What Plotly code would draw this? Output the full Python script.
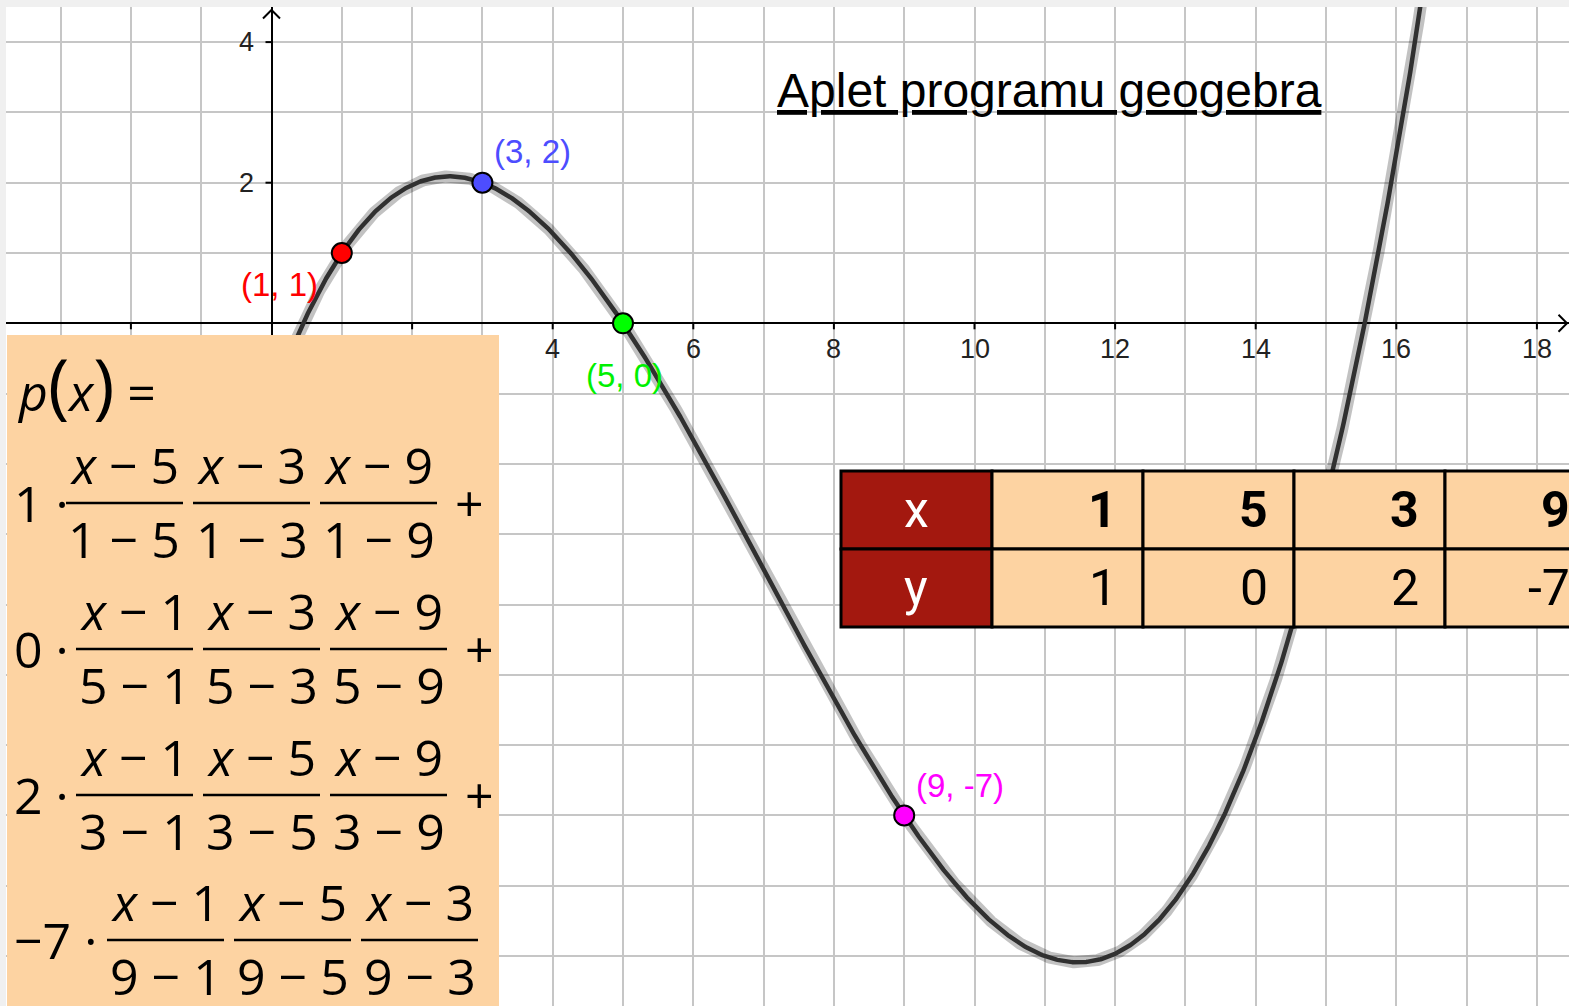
import numpy as np
import plotly.graph_objects as go

# interpolation nodes, in the order of the applet's table
xs = [1, 5, 3, 9]
ys = [1, 0, 2, -7]
point_colors = ["#ff0000", "#00ff00", "#4d4dff", "#ff00ff"]
label_colors = ["#ff0000", "#00f000", "#4d4dff", "#ff00ff"]
label_shift = [(-62, -31), (1, -52), (50, 31), (56, 30)]

x_tick_marks = [-2, 2, 4, 6, 8, 10, 12, 14, 16, 18]
x_tick_labels = [4, 6, 8, 10, 12, 14, 16, 18]
y_tick_marks = [-8, -6, -4, -2, 2, 4]
y_tick_labels = [2, 4]

title = "Aplet programu geogebra"
table_head = ["x", "y"]

# page geometry: GeoGebra view, 70.3 px per unit, origin at (271.5, 323.3)
W, H = 1569, 1006
ML, MT = 6, 7
UNIT = 70.3
OX, OY = 271.5, 323.3


def px_x(p):
    return (p - OX) / UNIT


def px_y(p):
    return (OY - p) / UNIT


def pap_x(p):
    return (p - ML) / (W - ML)


def pap_y(p):
    return 1 - (p - MT) / (H - MT)


def fmt(v):
    return str(v).replace("-", "\u2212")


def note(px, py, text, font, xanchor="center"):
    # text placed in page pixels (paper coordinates)
    return dict(xref="paper", yref="paper", x=pap_x(px), y=pap_y(py), text=text,
                showarrow=False, xanchor=xanchor, yanchor="middle", font=font)


# Lagrange polynomial through the nodes (the function shown in the applet)
def poly(x):
    total = np.zeros_like(x)
    for i in range(len(xs)):
        term = np.full_like(x, float(ys[i]))
        for j in range(len(xs)):
            if j != i:
                term = term * (x - xs[j]) / (xs[i] - xs[j])
        total = total + term
    return total


xc = np.linspace(-1.2, 16.8, 1500)
yc = poly(xc)

fig = go.Figure()
fig.add_trace(go.Scatter(x=xc, y=yc, mode="lines",
                         line=dict(color="rgba(0,0,0,0.24)", width=12), hoverinfo="skip"))
fig.add_trace(go.Scatter(x=xc, y=yc, mode="lines",
                         line=dict(color="#303030", width=4.5), hoverinfo="skip"))
fig.add_trace(go.Scatter(x=xs, y=ys, mode="markers", hoverinfo="skip",
                         marker=dict(size=20, color=point_colors,
                                     line=dict(color="black", width=2))))

shapes = []
annotations = []

# axis ticks and arrow heads
tl = 6 / UNIT
for v in x_tick_marks:
    shapes.append(dict(type="line", x0=v, x1=v, y0=0, y1=-tl,
                       line=dict(color="black", width=2)))
for v in y_tick_marks:
    shapes.append(dict(type="line", x0=0, x1=-tl, y0=v, y1=v,
                       line=dict(color="black", width=2)))
a = 8.5 / UNIT
ytip = px_y(10)
xtip = px_x(1567)
shapes.append(dict(type="path", path=f"M {-a},{ytip - a} L 0,{ytip} L {a},{ytip - a}",
                   line=dict(color="black", width=2)))
shapes.append(dict(type="path", path=f"M {xtip - a},{a} L {xtip},0 L {xtip - a},{-a}",
                   line=dict(color="black", width=2)))

tick_font = dict(family="Liberation Sans, Arial, sans-serif", size=27, color="#222222")
for v in x_tick_labels:
    annotations.append(dict(x=v, y=0, text=str(v), showarrow=False, yshift=-26,
                            xanchor="center", yanchor="middle", font=tick_font))
for v in y_tick_labels:
    annotations.append(dict(x=0, y=v, text=str(v), showarrow=False, xshift=-25,
                            xanchor="center", yanchor="middle", font=tick_font))

# point labels
for i in range(len(xs)):
    annotations.append(dict(x=xs[i], y=ys[i], text=f"({xs[i]}, {ys[i]})", showarrow=False,
                            xshift=label_shift[i][0], yshift=label_shift[i][1],
                            xanchor="center", yanchor="middle",
                            font=dict(family="Liberation Sans, Arial, sans-serif", size=33,
                                      color=label_colors[i])))

# title
annotations.append(note(1049, 90, title,
                        dict(family="Liberation Sans, Arial, sans-serif", size=48,
                             color="black", lineposition="under")))

# formula box
PEACH = "#fdd3a2"
shapes.append(dict(type="rect", xref="paper", yref="paper", x0=pap_x(7), x1=pap_x(499),
                   y0=pap_y(1012), y1=pap_y(335), fillcolor=PEACH, line=dict(width=0)))
mfont = dict(family="Open Sans, sans-serif", size=50, color="black")
annotations.append(note(15, 383,
                        "<i>p</i><span style='font-size:72px'>(</span><i>x</i>"
                        "<span style='font-size:72px'>)</span> =", mfont, "left"))

bar_y = [503, 649, 795, 940]
frac_start = [66, 76, 76, 107]
PITCH, FW = 127, 117
for i in range(len(xs)):
    by = bar_y[i]
    annotations.append(note(12, by, f"{fmt(ys[i])} \u00b7", mfont, "left"))
    others = [j for j in range(len(xs)) if j != i]
    for k, j in enumerate(others):
        x0 = frac_start[i] + k * PITCH
        cx = x0 + FW / 2
        shapes.append(dict(type="line", xref="paper", yref="paper",
                           x0=pap_x(x0), x1=pap_x(x0 + FW), y0=pap_y(by), y1=pap_y(by),
                           line=dict(color="black", width=2.5)))
        annotations.append(note(cx, by - 38, f"<i>x</i> \u2212 {xs[j]}", mfont))
        annotations.append(note(cx, by + 36, f"{xs[i]} \u2212 {xs[j]}", mfont))
    if i < len(xs) - 1:
        end = frac_start[i] + 2 * PITCH + FW
        annotations.append(note(end + 32, by, "+", mfont))

# table of nodes
col_edges = [841, 992, 1143, 1294, 1445, 1596]
row_edges = [471, 549, 627]
RED = "#a3180f"
tfont = "Roboto, sans-serif"
rows = [xs, ys]
for r in range(2):
    for c in range(len(col_edges) - 1):
        shapes.append(dict(type="rect", xref="paper", yref="paper",
                           x0=pap_x(col_edges[c]), x1=pap_x(col_edges[c + 1]),
                           y0=pap_y(row_edges[r + 1]), y1=pap_y(row_edges[r]),
                           fillcolor=RED if c == 0 else PEACH,
                           line=dict(color="black", width=3)))
    cy = (row_edges[r] + row_edges[r + 1]) / 2
    annotations.append(note((col_edges[0] + col_edges[1]) / 2, cy, table_head[r],
                            dict(family=tfont, size=50, color="white")))
    for c, v in enumerate(rows[r]):
        txt = f"<b>{v}</b>" if r == 0 else str(v)
        annotations.append(note(col_edges[c + 2] - 24, cy, txt,
                                dict(family=tfont, size=50, color="black"), "right"))

fig.update_layout(
    width=W, height=H,
    margin=dict(l=ML, r=0, t=MT, b=0),
    paper_bgcolor="#f0f0f0", plot_bgcolor="white",
    showlegend=False, hovermode=False,
    font=dict(family="Liberation Sans, Arial, sans-serif"),
    xaxis=dict(range=[px_x(ML), px_x(W)], dtick=1, tick0=0, showgrid=True,
               gridcolor="#c6c6c6", gridwidth=1.5, zeroline=True, zerolinecolor="black",
               zerolinewidth=2, showticklabels=False, ticks="", fixedrange=True),
    yaxis=dict(range=[px_y(H), px_y(MT)], dtick=1, tick0=0, showgrid=True,
               gridcolor="#c6c6c6", gridwidth=1.5, zeroline=True, zerolinecolor="black",
               zerolinewidth=2, showticklabels=False, ticks="", fixedrange=True),
    shapes=shapes, annotations=annotations,
)

fig.write_html("out.html", config={"displayModeBar": False},
               post_script="document.body.style.margin='0';document.body.style.overflow='hidden';")
